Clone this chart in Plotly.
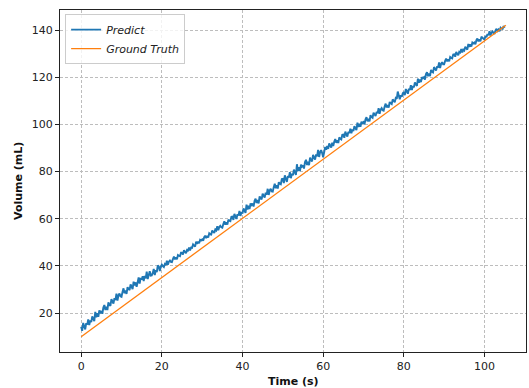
import plotly.graph_objects as go

# Predicted volume (mL), sampled every 0.25 s from t = 0 s to t = 105 s
time_step = 0.25
predict_volume = [
    14.2, 12.5, 15.8, 14.4, 13.1, 15.7, 15.1, 17.3, 14.9, 16.9,
    16.2, 18.6, 17.6, 16.6, 20.5, 18.2, 19.9, 18.4, 21.1, 20.3,
    20.9, 19.7, 22.4, 23.4, 21.3, 22.7, 21.3, 24.5, 23.5, 23.1,
    25.9, 24.8, 24.0, 26.3, 25.5, 28.2, 25.3, 27.5, 28.3, 27.1,
    26.9, 29.0, 30.5, 28.4, 29.6, 28.1, 31.0, 30.2, 29.8, 32.2,
    31.5, 30.2, 33.3, 31.7, 33.0, 31.1, 33.1, 35.1, 32.5, 34.9,
    34.2, 35.6, 33.6, 35.7, 34.7, 37.6, 34.4, 36.0, 37.7, 35.9,
    36.0, 37.0, 38.7, 36.1, 38.2, 37.4, 40.2, 39.8, 37.8, 39.6,
    40.5, 39.9, 39.5, 40.8, 40.4, 42.2, 40.5, 41.8, 42.3, 41.7,
    41.6, 42.9, 43.9, 42.8, 43.6, 42.8, 44.6, 44.3, 44.1, 45.6,
    45.6, 44.8, 46.6, 46.0, 45.4, 46.8, 46.6, 47.8, 46.6, 47.8,
    47.7, 49.1, 48.6, 48.2, 50.3, 49.3, 50.3, 49.6, 51.1, 50.8,
    51.2, 50.7, 52.2, 52.8, 51.8, 52.7, 52.0, 53.8, 53.4, 53.3,
    55.0, 54.4, 54.0, 55.4, 55.0, 56.8, 55.1, 56.5, 57.0, 56.4,
    56.2, 57.8, 58.9, 57.5, 58.5, 57.5, 59.6, 59.2, 59.0, 60.8,
    60.9, 59.5, 62.1, 60.9, 59.9, 61.9, 61.4, 63.3, 61.2, 62.8,
    62.2, 64.4, 63.5, 62.5, 66.0, 63.9, 65.5, 64.1, 66.5, 65.8,
    66.4, 65.2, 67.6, 68.5, 66.7, 67.9, 66.5, 69.5, 68.6, 68.2,
    70.6, 69.7, 69.0, 71.0, 70.2, 72.7, 70.1, 72.0, 72.7, 71.6,
    71.5, 73.4, 74.8, 72.9, 74.2, 72.8, 75.5, 74.8, 74.6, 76.8,
    76.9, 75.1, 78.4, 77.0, 75.6, 78.1, 77.5, 79.7, 77.2, 79.1,
    78.4, 80.8, 79.7, 78.6, 83.1, 80.2, 81.8, 80.2, 82.9, 82.1,
    82.6, 81.3, 84.0, 85.0, 82.8, 84.1, 82.7, 85.9, 84.8, 84.3,
    87.1, 86.0, 85.1, 87.3, 86.5, 89.2, 86.2, 88.3, 89.1, 87.9,
    86.1, 88.2, 90.5, 89.3, 90.8, 89.6, 91.9, 91.0, 90.2, 92.2,
    90.8, 92.6, 93.8, 92.2, 93.2, 92.1, 94.5, 93.9, 93.6, 95.6,
    95.7, 94.3, 96.9, 95.8, 94.8, 96.8, 96.3, 98.2, 96.2, 97.8,
    97.2, 99.2, 98.4, 97.6, 100.7, 98.9, 100.2, 99.0, 101.1, 100.6,
    101.0, 100.0, 102.2, 103.0, 101.3, 102.4, 101.3, 103.9, 103.1, 102.8,
    105.0, 104.2, 103.5, 105.3, 104.7, 106.9, 104.5, 106.3, 106.9, 106.0,
    105.8, 107.6, 108.8, 107.2, 108.2, 107.1, 109.5, 108.9, 108.6, 110.6,
    110.2, 109.4, 111.2, 110.8, 113.9, 112.4, 110.7, 112.4, 111.7, 113.2,
    113.7, 112.4, 115.0, 114.0, 113.0, 115.1, 114.6, 116.6, 114.6, 116.3,
    115.7, 117.8, 117.0, 116.3, 119.4, 117.7, 119.0, 117.9, 120.0, 119.6,
    120.0, 119.0, 121.3, 122.1, 120.4, 121.5, 120.5, 123.1, 122.3, 122.0,
    124.3, 123.5, 122.8, 124.6, 124.1, 126.3, 123.9, 125.7, 126.4, 125.5,
    125.5, 126.9, 127.9, 126.7, 127.5, 126.8, 128.6, 128.2, 128.0, 129.6,
    129.7, 128.7, 130.7, 130.0, 129.3, 130.8, 130.5, 131.9, 130.5, 131.7,
    131.3, 132.9, 132.4, 131.7, 134.1, 132.9, 133.9, 133.0, 134.7, 134.3,
    134.7, 134.0, 135.7, 136.4, 135.2, 136.0, 135.2, 137.2, 136.7, 136.4,
    136.0, 137.5, 137.0, 138.3, 137.8, 139.5, 137.7, 139.0, 139.4, 138.7,
    138.6, 139.8, 140.5, 139.6, 140.2, 139.5, 141.0, 140.6, 140.5, 141.7,
    141.0,
]
predict_time = [i * time_step for i in range(len(predict_volume))]

# Ground truth (straight line)
truth_time = [0, 105.3]
truth_volume = [10, 142]

x_ticks = [0, 20, 40, 60, 80, 100]
y_ticks = [20, 40, 60, 80, 100, 120, 140]

fig = go.Figure()
fig.add_trace(go.Scatter(
    x=predict_time, y=predict_volume, mode="lines", name="Predict",
    line=dict(color="#1f77b4", width=1.9),
))
fig.add_trace(go.Scatter(
    x=truth_time, y=truth_volume, mode="lines", name="Ground Truth",
    line=dict(color="#ff7f0e", width=1.3),
))

font_family = "DejaVu Sans"
axis_common = dict(
    showline=True, linecolor="#222222", linewidth=1, mirror=True,
    ticks="outside", ticklen=4, tickcolor="#222222", tickwidth=1,
    showgrid=True, gridcolor="#bdbdbd", griddash="3px,2px", gridwidth=0.8,
    zeroline=False, automargin=False,
    tickfont=dict(family=font_family, size=11, color="#222222"),
)

fig.update_layout(
    width=529, height=388,
    margin=dict(l=60, r=3, t=10, b=36),
    paper_bgcolor="white", plot_bgcolor="white",
    font=dict(family=font_family, color="#222222"),
    xaxis=dict(range=[-5.25, 110.3], tickvals=x_ticks, **axis_common),
    yaxis=dict(range=[3.5, 148.5], tickvals=y_ticks, **axis_common),
    legend=dict(
        x=0.011, y=0.988, xanchor="left", yanchor="top",
        bgcolor="rgba(255,255,255,0.8)", bordercolor="#cccccc", borderwidth=1,
        font=dict(family=font_family, size=11, style="italic", color="#222222"),
        tracegroupgap=0, itemwidth=30,
    ),
    annotations=[
        dict(text="<b>Time (s)</b>", xref="paper", yref="paper", x=0.5, y=0,
             xanchor="center", yanchor="middle", yshift=-29, showarrow=False,
             font=dict(family=font_family, size=11, color="#111111")),
        dict(text="<b>Volume (mL)</b>", xref="paper", yref="paper", x=0, y=0.5,
             xanchor="center", yanchor="middle", xshift=-42, textangle=-90,
             showarrow=False,
             font=dict(family=font_family, size=11, color="#111111")),
    ],
    showlegend=True,
)

fig.write_html(
    "out.html",
    config={"displayModeBar": False},
    post_script="document.body.style.margin='0';document.body.style.overflow='hidden';",
)
